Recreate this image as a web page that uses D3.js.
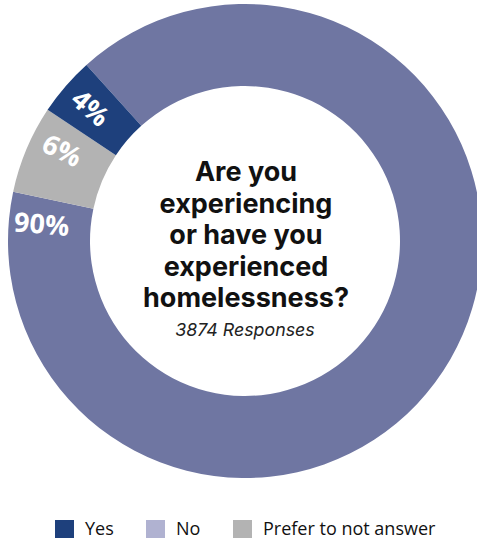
<!DOCTYPE html>
<html>
<head>
<meta charset="utf-8">
<script src="https://cdn.jsdelivr.net/npm/d3@7"></script>
<style>
  html, body { margin: 0; padding: 0; background: #fff; }
  svg { display: block; }
</style>
</head>
<body>
<svg id="chart" width="477" height="542"></svg>
<script>
// Survey answers, drawn clockwise in this order
const categories = ["No", "Prefer to not answer", "Yes"];
const percents = [90, 6, 4];
const legendOrder = ["Yes", "No", "Prefer to not answer"];
const titleLines = ["Are you", "experiencing", "or have you", "experienced", "homelessness?"];
const responses = 3874;

const ringColor = { "No": "#6f76a2", "Prefer to not answer": "#b3b3b3", "Yes": "#1e407c" };
const swatchColor = { "No": "#b0b2d1", "Prefer to not answer": "#b3b3b3", "Yes": "#1e407c" };

const W = 477, H = 542;
const cx = 245, cy = 241, outerR = 237, innerR = 155;
const deg = Math.PI / 180;

const svg = d3.select("#chart");
const g = svg.append("g").attr("transform", `translate(${cx},${cy})`);

const pie = d3.pie().sort(null).value(d => d.value)
  .startAngle(-42 * deg).endAngle(318 * deg);
const arcs = pie(categories.map((c, i) => ({ name: c, value: percents[i] })));

const arc = d3.arc().innerRadius(innerR).outerRadius(outerR);
g.selectAll("path.slice").data(arcs).join("path")
  .attr("class", "slice")
  .attr("d", arc)
  .attr("fill", d => ringColor[d.data.name]);

// Percentage labels sit a little before each slice's closing edge, turned along the radius
const labelR = 204;
const labelAngle = d => d.endAngle - 7 * deg;
g.selectAll("text.pct").data(arcs).join("text")
  .attr("class", "pct")
  .attr("transform", d => {
    const a = labelAngle(d);
    const x = Math.sin(a) * labelR, y = -Math.cos(a) * labelR;
    return `translate(${x},${y}) rotate(${a / deg + 90})`;
  })
  .attr("text-anchor", "middle")
  .attr("dominant-baseline", "central")
  .attr("fill", "#fff")
  .attr("font-family", "'Open Sans', sans-serif")
  .attr("font-weight", 700)
  .attr("font-size", 27)
  .text(d => d.data.value + "%");

// Centre question
const titleG = g.append("g").attr("transform", "translate(1,0)");
titleLines.forEach((t, i) => {
  titleG.append("text")
    .attr("text-anchor", "middle")
    .attr("x", 0).attr("y", -60 + i * 31.5)
    .attr("font-family", "Inter, sans-serif")
    .attr("font-weight", 700)
    .attr("font-size", 27)
    .attr("fill", "#111")
    .text(t);
});
g.append("text")
  .attr("text-anchor", "middle")
  .attr("x", 0).attr("y", 95)
  .attr("font-family", "Inter, sans-serif")
  .attr("font-style", "italic")
  .attr("font-size", 17.8)
  .attr("fill", "#222")
  .text(`${responses} Responses`);

// Legend
const legendPos = d3.scaleOrdinal().domain(legendOrder).range([55, 146, 233]);
const lg = svg.append("g").selectAll("g").data(legendOrder).join("g")
  .attr("transform", d => `translate(${legendPos(d)},520)`);
lg.append("rect").attr("width", 19).attr("height", 18)
  .attr("fill", d => swatchColor[d]);
lg.append("text").attr("x", 30).attr("y", 15)
  .attr("font-family", "'Open Sans', sans-serif")
  .attr("font-weight", 500)
  .attr("font-size", 18)
  .attr("fill", "#111")
  .text(d => d);
</script>
</body>
</html>
